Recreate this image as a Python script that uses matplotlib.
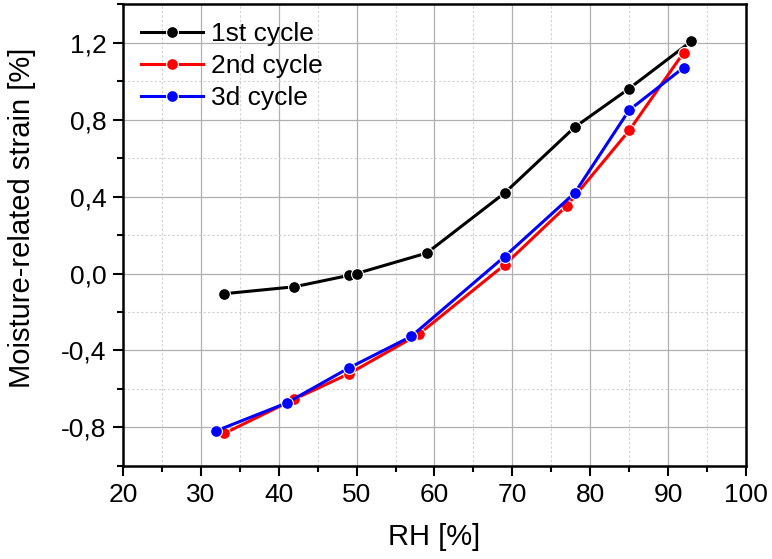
import numpy as np
import matplotlib
matplotlib.use("Agg")
import matplotlib.pyplot as plt
from matplotlib.ticker import MultipleLocator, FuncFormatter

plt.rcParams['font.family'] = ['Liberation Sans', 'DejaVu Sans']

# data
rh_1 = [33, 42, 49, 50, 59, 69, 78, 85, 93]
strain_1 = [-0.105, -0.069, -0.01, 0.0, 0.106, 0.418, 0.76, 0.961, 1.207]

rh_2 = [33, 42, 49, 58, 69, 77, 85, 92]
strain_2 = [-0.831, -0.653, -0.521, -0.315, 0.045, 0.352, 0.743, 1.148]

rh_3 = [32, 41, 49, 57, 69, 78, 85, 92]
strain_3 = [-0.817, -0.673, -0.491, -0.327, 0.088, 0.418, 0.849, 1.07]

labels = ['1st cycle', '2nd cycle', '3d cycle']
colors = ['black', 'red', 'blue']

fig = plt.figure(figsize=(7.72, 5.59), dpi=100)
ax = fig.add_axes([0.1593, 0.1664, 0.8070, 0.8264])

for x, y, lab, c in zip([rh_1, rh_2, rh_3], [strain_1, strain_2, strain_3], labels, colors):
    ax.plot(x, y, '-o', color=c, lw=2.2, ms=8.5, mfc=c, mec='white', mew=0.8, label=lab)

ax.set_xlim(20, 100)
ax.set_ylim(-1.0, 1.4)
ax.xaxis.set_major_locator(MultipleLocator(10))
ax.xaxis.set_minor_locator(MultipleLocator(5))
ax.yaxis.set_major_locator(MultipleLocator(0.4))
ax.yaxis.set_minor_locator(MultipleLocator(0.2))
ax.yaxis.set_major_formatter(FuncFormatter(lambda v, p: f"{v:.1f}".replace('.', ',').replace('-0,0', '0,0')))

ax.grid(which='major', color='#b0b0b0', lw=0.9, ls='-')
ax.grid(which='minor', color='#d0d0d0', lw=0.8, ls=(0, (2, 2)))
ax.set_axisbelow(True)

ax.tick_params(which='both', direction='out', top=False, right=False, width=1.5)
ax.tick_params(which='major', length=7, labelsize=19, pad=5)
ax.tick_params(which='minor', length=4)
for s in ax.spines.values():
    s.set_linewidth(1.8)

ax.set_xlabel('RH [%]', fontsize=21, labelpad=12)
ax.set_ylabel('Moisture-related strain [%]', fontsize=21)
ax.yaxis.set_label_coords(-0.14, 0.538)

ax.legend(loc='upper left', frameon=False, fontsize=19, handlelength=2.35,
          handletextpad=0.3, labelspacing=0.3, borderaxespad=0.3)

fig.savefig('out.png', dpi=100)
